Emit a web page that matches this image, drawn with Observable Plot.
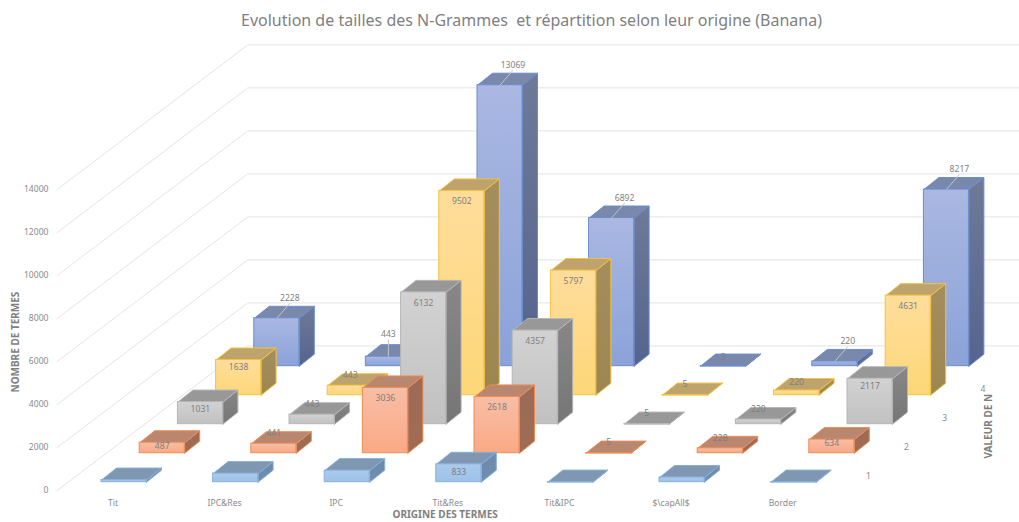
<!DOCTYPE html>
<html lang="fr">
<head>
<meta charset="utf-8">
<script src="https://cdn.jsdelivr.net/npm/d3@7"></script>
<script src="https://cdn.jsdelivr.net/npm/@observablehq/plot@0.6"></script>
<style>
  html, body { margin: 0; padding: 0; background: #fff; overflow: hidden; }
  #title { height: 38px; padding-left: 44px; box-sizing: border-box; width: 1019px; text-align: center;
           white-space: pre; font: 16px/40px "Noto Sans", sans-serif; color: #7f7f7f; }
  svg { display: block; }
</style>
</head>
<body>
<div id="title">Evolution de tailles des N-Grammes  et répartition selon leur origine (Banana)</div>
<div id="chart"></div>
<script>
const categories = ["Tit", "IPC&Res", "IPC", "Tit&Res", "Tit&IPC", "$\\capAll$", "Border"];
const depthLabels = [1, 2, 3, 4];
const valueTicks = [0, 2000, 4000, 6000, 8000, 10000, 12000, 14000];
const n1 = [100, 400, 540, 833, 5, 220, 5];
const n2 = [487, 441, 3036, 2618, 5, 228, 634];
const n3 = [1031, 443, 6132, 4357, 5, 220, 2117];
const n4 = [1638, 443, 9502, 5797, 5, 220, 4631];
const n5 = [2228, 443, 13069, 6892, 5, 220, 8217];
const rows = [n1, n2, n3, n4, n5];

// front top, front bottom, side top, side bottom, top face, edge
const palette = [
  ["#abcaeb", "#9dc2e8", "#6c89a8", "#6e8fb3", "#7f97b1", "#86b0de"],
  ["#f7bea6", "#fba985", "#9b6a58", "#a16c52", "#b98670", "#ef8c55"],
  ["#d2d2d2", "#c1c1c1", "#878787", "#767676", "#989898", "#b6b6b6"],
  ["#fedd9b", "#fed778", "#a58e5e", "#9c8650", "#bea36c", "#f3c23f"],
  ["#aab8e2", "#8ba2d8", "#6f7a98", "#55648f", "#7a88ab", "#6a8ccf"]
];

// Oblique projection: one category = 111.6 px, 1 px = 1/0.0215 terms.
const H = 484;
const catPx = 111.6, valPx = 0.0215;
const PX = 1 / catPx, PY = 1 / valPx;
const DX = 38.2 * PX, DY = 29 * PY;      // shift from one N row to the next
const halfW = 22.5 * PX, ox = 15 * PX, oy = 12 * PY; // bar half width and bar depth
const px = (c, d) => c + d * DX;
const py = (v, d) => v + d * DY;

const bars = rows.flatMap((vals, s) => vals.map((v, c) => ({s, c, v})));

const marks = [];
// gradient defs
marks.push(() => {
  const defs = d3.create("svg:defs");
  palette.forEach((p, s) => {
    [["front", p[0], p[1]], ["side", p[2], p[3]]].forEach(([k, a, b]) => {
      const g = defs.append("linearGradient").attr("id", `${k}${s}`)
        .attr("x1", 0).attr("x2", 0).attr("y1", 0).attr("y2", 1);
      g.append("stop").attr("offset", 0).attr("stop-color", a);
      g.append("stop").attr("offset", 1).attr("stop-color", b);
    });
  });
  return defs.node();
});

// walls
const wall = valueTicks.flatMap(v => [
  {v, x: px(-0.5, -0.29), y: py(v, -0.29)},
  {v, x: px(-0.5, 4.7), y: py(v, 4.7)},
  {v, x: px(7, 4.7), y: py(v, 4.7)}
]);
marks.push(Plot.line(wall, {x: "x", y: "y", z: "v", stroke: "#e4e4e4", strokeWidth: 1}));

// bars, back row first
for (let s = rows.length - 1; s >= 0; --s) {
  const row = bars.filter(b => b.s === s);
  const side = row.flatMap(({c, v}) => {
    const x = px(c, s) + halfW, y0 = py(0, s), y1 = py(v, s);
    return [[x, y0], [x + ox, y0 + oy], [x + ox, y1 + oy], [x, y1], [x, y0]].map(([x, y]) => ({id: c, x, y}));
  });
  const top = row.flatMap(({c, v}) => {
    const x1 = px(c, s) - halfW, x2 = px(c, s) + halfW, y = py(v, s);
    return [[x1, y], [x2, y], [x2 + ox, y + oy], [x1 + ox, y + oy], [x1, y]].map(([x, y]) => ({id: c, x, y}));
  });
  const edge = palette[s][5];
  marks.push(
    Plot.line(side, {x: "x", y: "y", z: "id", fill: `url(#side${s})`, stroke: edge, strokeWidth: 1, strokeLinejoin: "miter"}),
    Plot.line(top, {x: "x", y: "y", z: "id", fill: palette[s][4], stroke: edge, strokeWidth: 1, strokeLinejoin: "miter"}),
    Plot.rect(row, {
      x1: d => px(d.c, s) - halfW, x2: d => px(d.c, s) + halfW,
      y1: py(0, s), y2: d => py(d.v, s),
      fill: `url(#front${s})`, stroke: edge, strokeWidth: 1
    })
  );
}

// value labels
function labelPos({s, c, v}) {
  const cx = px(c, s), top = py(v, s);
  if (s === 4) {
    if (v === 5) return {x: cx, y: top + 9 * PY};
    if (v === 443) return {x: cx, y: top + 22 * PY, from: 9};
    return {x: cx + 13 * PX, y: top + 20 * PY, from: 9};
  }
  if (v <= 443) return {x: cx, y: top + (v === 220 && s === 3 ? 8 : 10.5) * PY};
  if (v < 700) return {x: cx, y: top - 4 * PY};
  if (v < 2200) return {x: cx, y: top - 7.5 * PY};
  return {x: cx, y: top - 10.5 * PY};
}
const labelled = bars.filter(b => b.s > 0 || categories[b.c] === "Tit&Res")
  .map(b => ({...b, ...labelPos(b)}));
marks.push(
  Plot.link(labelled.filter(d => d.from), {
    x1: d => px(d.c, d.s), y1: d => py(d.v, d.s),
    x2: "x", y2: d => d.y - 5 * PY,
    stroke: "#c4c4c4", strokeWidth: 1
  }),
  Plot.text(labelled, {x: "x", y: "y", text: d => String(d.v), fill: "#808080", fontSize: 8.6})
);

// depth labels
marks.push(Plot.text(depthLabels, {
  x: (d, i) => px(6.67, i), y: (d, i) => py(280, i), text: d => String(d), fill: "#8a8a8a", fontSize: 8.6
}));

// axes
marks.push(
  Plot.axisY({ticks: valueTicks, tickSize: 0, tickPadding: 0, dy: 8.3, label: null, marginLeft: 48,
              tickFormat: d => String(d), fill: "#8a8a8a", fontSize: 8.6}),
  Plot.axisX({ticks: d3.range(categories.length), tickSize: 0, tickPadding: 0, dx: -11, label: null, marginBottom: 23,
              tickFormat: i => categories[i], fill: "#8a8a8a", fontSize: 8.6})
);

// axis titles
const axisTitle = {fill: "#7f7f7f", fontSize: 10, fontWeight: "bold", frameAnchor: "top-left"};
marks.push(
  Plot.text(["NOMBRE DE TERMES"], {...axisTitle, dx: -37, dy: 354, rotate: -90}),
  Plot.text(["ORIGINE DES TERMES"], {...axisTitle, dx: 344, dy: 472}),
  Plot.text(["VALEUR DE N"], {...axisTitle, dx: 936, dy: 420, rotate: -90})
);

const chart = Plot.plot({
  width: 1019, height: H,
  marginTop: 0, marginRight: 0, marginBottom: 23, marginLeft: 48,
  style: {fontFamily: "'Noto Sans', sans-serif", background: "#fff"},
  x: {domain: [(0 - 123.5) * PX, (1019 - 123.5) * PX], range: [0, 1019]},
  y: {domain: [(481.7 - 522) * PY, (481.7 - 38) * PY], range: [H, 0]},
  marks
});
document.getElementById("chart").appendChild(chart);
</script>
</body>
</html>
